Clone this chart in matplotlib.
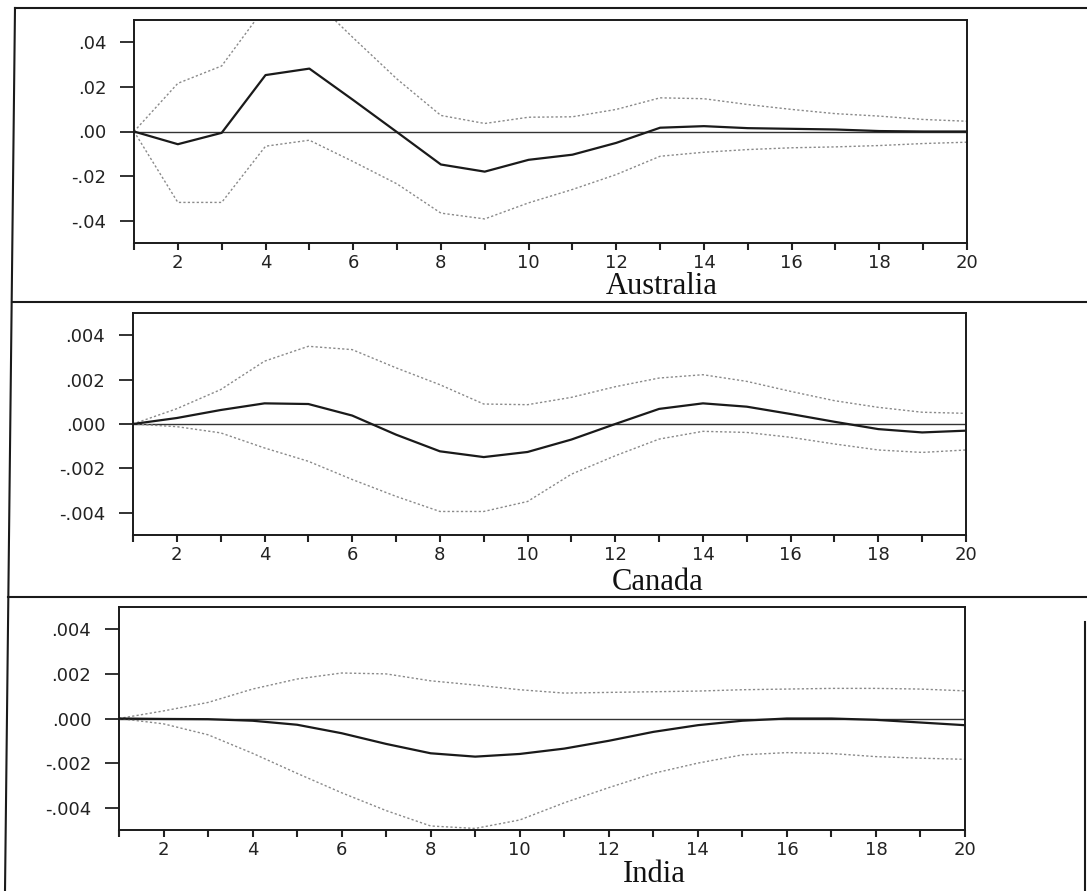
import matplotlib
matplotlib.use("Agg")
import matplotlib.pyplot as plt
from matplotlib.lines import Line2D
from matplotlib.ticker import FixedLocator

periods = list(range(1, 21))

# Australia
aus_irf = [0.0, -0.0057, -0.0006, 0.0253, 0.0282, 0.0141, -0.0003, -0.0148, -0.0180, -0.0127,
           -0.0104, -0.0051, 0.0017, 0.0024, 0.0015, 0.0012, 0.0009, 0.0002, 0.0, 0.0]
aus_up = [0.0, 0.0216, 0.0294, 0.0560, 0.0610, 0.0420, 0.0235, 0.0072, 0.0036, 0.0064,
          0.0066, 0.0099, 0.0151, 0.0147, 0.0121, 0.0099, 0.0080, 0.0069, 0.0054, 0.0046]
aus_lo = [0.0, -0.0318, -0.0318, -0.0066, -0.0039, -0.0135, -0.0235, -0.0366, -0.0392, -0.0320,
          -0.0260, -0.0193, -0.0111, -0.0093, -0.0081, -0.0073, -0.0069, -0.0063, -0.0054, -0.0048]

# Canada
can_irf = [0.0, 0.00027, 0.00063, 0.00093, 0.00090, 0.00038, -0.00048, -0.00123, -0.00149, -0.00126,
           -0.00070, 0.0, 0.00068, 0.00093, 0.00078, 0.00045, 0.00010, -0.00023, -0.00038, -0.00030]
can_up = [0.0, 0.00069, 0.00155, 0.00283, 0.00350, 0.00335, 0.00253, 0.00177, 0.00090, 0.00087,
          0.00120, 0.00168, 0.00207, 0.00222, 0.00192, 0.00147, 0.00105, 0.00075, 0.00053, 0.00048]
can_lo = [0.0, -0.00012, -0.00040, -0.00108, -0.00168, -0.00250, -0.00326, -0.00394, -0.00394, -0.00349,
          -0.00226, -0.00143, -0.00068, -0.00033, -0.00038, -0.00060, -0.00090, -0.00117, -0.00128, -0.00117]

# India
ind_irf = [0.0, -0.00002, -0.00003, -0.00010, -0.00028, -0.00066, -0.00114, -0.00156, -0.00171, -0.00159,
           -0.00135, -0.00100, -0.00060, -0.00030, -0.00010, 0.0, 0.0, -0.00006, -0.00018, -0.00030]
ind_up = [0.0, 0.00034, 0.00072, 0.00132, 0.00177, 0.00204, 0.00200, 0.00169, 0.00150, 0.00129,
          0.00114, 0.00117, 0.00120, 0.00123, 0.00129, 0.00132, 0.00135, 0.00135, 0.00132, 0.00124]
ind_lo = [0.0, -0.00024, -0.00073, -0.00156, -0.00246, -0.00333, -0.00413, -0.00482, -0.00493, -0.00455,
          -0.00378, -0.00310, -0.00246, -0.00200, -0.00163, -0.00153, -0.00157, -0.00171, -0.00178, -0.00183]

countries = ["Australia", "Canada", "India"]
aus_yticks = [0.04, 0.02, 0.0, -0.02, -0.04]
aus_ylabels = [".04", ".02", ".00", "-.02", "-.04"]
small_yticks = [0.004, 0.002, 0.0, -0.002, -0.004]
small_ylabels = [".004", ".002", ".000", "-.002", "-.004"]
xtick_major = [2, 4, 6, 8, 10, 12, 14, 16, 18, 20]
xtick_minor = [1, 3, 5, 7, 9, 11, 13, 15, 17, 19]

W, H = 1087, 891
fig = plt.figure(figsize=(W / 100, H / 100), dpi=100)
fig.patch.set_facecolor("white")


def ax_rect(left, right, top, bottom):
    return [left / W, 1 - bottom / H, (right - left) / W, (bottom - top) / H]


panels = [
    (ax_rect(134, 967, 20, 243), aus_irf, aus_up, aus_lo, (-0.05, 0.05), aus_yticks, aus_ylabels),
    (ax_rect(133, 966, 313, 535), can_irf, can_up, can_lo, (-0.005, 0.005), small_yticks, small_ylabels),
    (ax_rect(119, 965, 607, 830), ind_irf, ind_up, ind_lo, (-0.005, 0.005), small_yticks, small_ylabels),
]

tick_font = dict(family="DejaVu Sans", size=13, color="#222222")

for rect, irf, up, lo, ylim, yt, yl in panels:
    ax = fig.add_axes(rect)
    ax.axhline(0, color="#333333", lw=1.0, zorder=1)
    ax.plot(periods, up, color="#8a8a8a", lw=1.0, ls=(0, (1.6, 1.6)), zorder=2)
    ax.plot(periods, lo, color="#8a8a8a", lw=1.0, ls=(0, (1.6, 1.6)), zorder=2)
    ax.plot(periods, irf, color="#1a1a1a", lw=1.6, zorder=3)
    ax.set_xlim(1, 20)
    ax.set_ylim(*ylim)
    ax.set_yticks(yt)
    ax.set_yticklabels(yl, fontdict=tick_font)
    ax.xaxis.set_major_locator(FixedLocator(xtick_major))
    ax.xaxis.set_minor_locator(FixedLocator(xtick_minor))
    ax.set_xticklabels([str(v) for v in xtick_major], fontdict=tick_font)
    ax.tick_params(axis="y", direction="out", length=10, width=1.3, pad=10, color="#222222")
    ax.tick_params(axis="x", which="both", direction="out", length=5, width=1.5, pad=3, color="#222222")
    for s in ax.spines.values():
        s.set_linewidth(1.4)
        s.set_color("#1a1a1a")

# Titles
title_font = dict(family="Liberation Serif", size=22, color="#111111", ha="center", va="baseline")
fig.text(662 / W, 1 - 294 / H, countries[0], **title_font)
fig.text(658 / W, 1 - 590 / H, countries[1], **title_font)
fig.text(654 / W, 1 - 882 / H, countries[2], **title_font)


# Frame lines (table borders)
def fline(x0, y0, x1, y1, lw=1.5, color="#1a1a1a"):
    fig.add_artist(Line2D([x0 / W, x1 / W], [1 - y0 / H, 1 - y1 / H], transform=fig.transFigure,
                          color=color, lw=lw))


fline(15, 8, 1087, 8)
fline(12, 302, 1087, 302)
fline(8, 597, 1087, 597)
fline(15, 8, 5, 891)
fline(1085, 622, 1085, 891)

fig.savefig("out.png", dpi=100, facecolor="white")
